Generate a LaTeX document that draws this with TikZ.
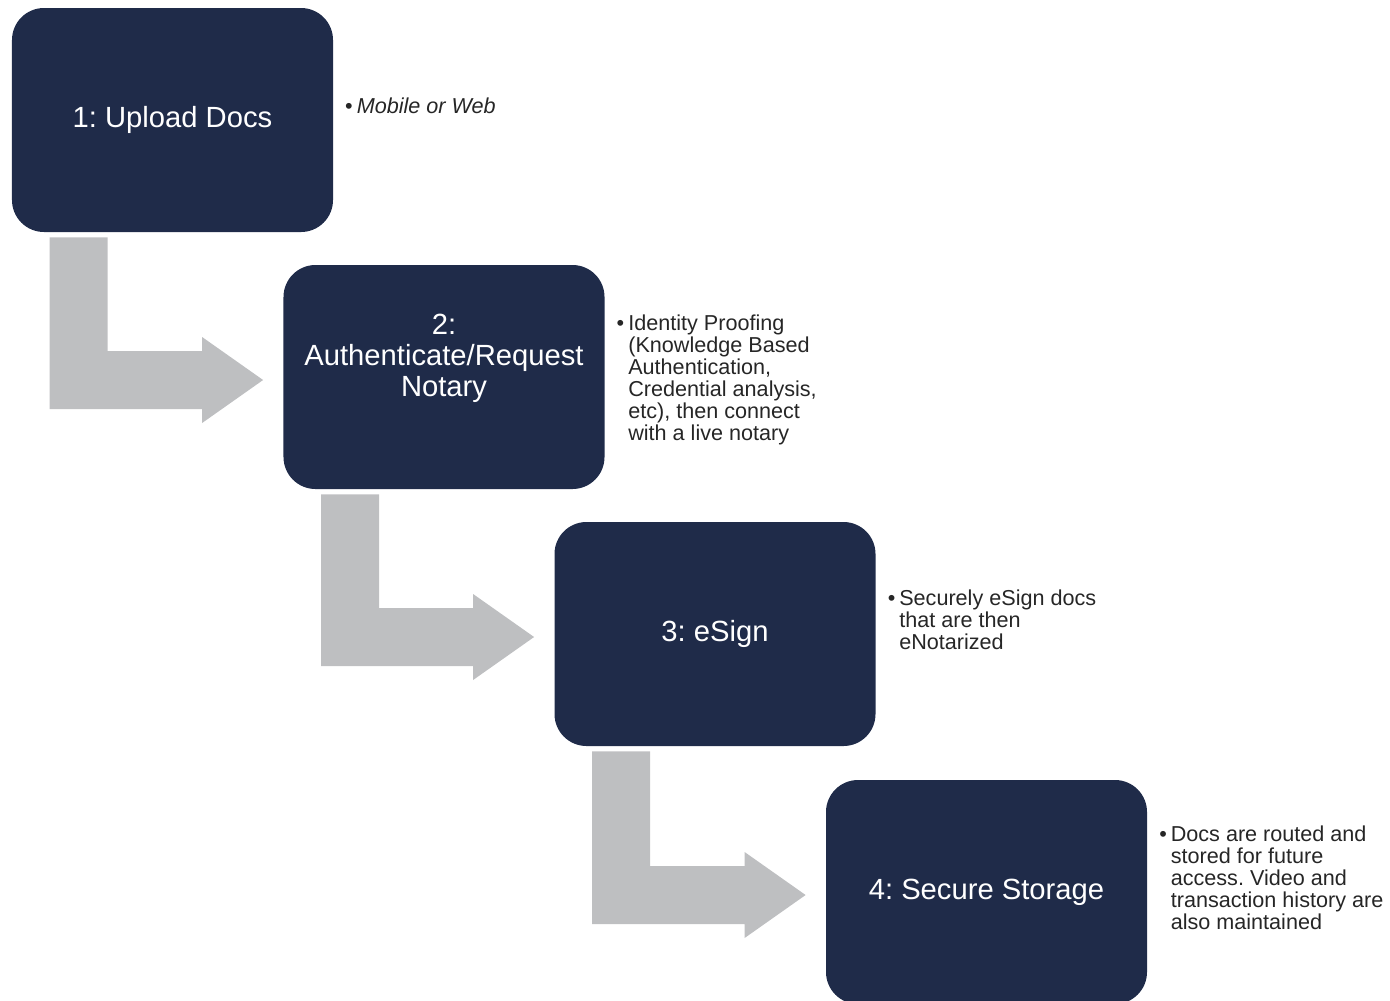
\documentclass[tikz,border=0pt]{standalone}
\usepackage{fontspec}
\setmainfont{Liberation Sans}
\usetikzlibrary{calc}
\frenchspacing

\definecolor{navy}{RGB}{31,43,73}
\definecolor{arrowgray}{RGB}{190,191,193}
\definecolor{notegray}{RGB}{38,38,38}

\tikzset{
  stepbox/.style={fill=navy, text=white, rounded corners=16bp, inner sep=0pt,
    minimum width=160.5bp, minimum height=112bp, align=center,
    font=\fontsize{14.6bp}{15.5bp}\selectfont},
  note/.style={anchor=north west, inner sep=0pt, align=left, text=notegray,
    font=\fontsize{10.8bp}{11bp}\selectfont},
  elbow/.style={fill=arrowgray}
}
\newcommand{\bul}{\llap{\textbullet\hspace{2bp}}}

\begin{document}
\begin{tikzpicture}[x=0.5bp, y=-0.5bp]
  \useasboundingbox (0,0) rectangle (1390,1000);
  \clip (0,0) rectangle (1390,1000);

  % Steps
  \node[stepbox] (s1) at (172.5,120) {1: Upload Docs};
  \node[stepbox, text depth=22bp] (s2) at (444,377) {2:\\Authenticate/Request\\Notary};
  \node[stepbox] (s3) at (715,634) {3: eSign};
  \node[stepbox] (s4) at (986.5,892) {4: Secure Storage};

  % Notes beside the steps
  \node[note] (n1) at ($(s1.north east)+(23,90)$) {\bul\textit{Mobile or Web}};
  \node[note] (n2) at ($(s2.north east)+(23,50)$) {\bul Identity Proofing\\(Knowledge Based\\Authentication,\\Credential analysis,\\etc), then connect\\with a live notary};
  \node[note] (n3) at ($(s3.north east)+(23,68)$) {\bul Securely eSign docs\\that are then\\eNotarized};
  \node[note] (n4) at ($(s4.north east)+(23,46)$) {\bul Docs are routed and\\stored for future\\access. Video and\\transaction history are\\also maintained};

  % Elbow arrows between steps
  \foreach \a/\b in {s1/s2, s2/s3, s3/s4} {
    \coordinate (top) at ($(\a.south west)+(38,5)$);
    \coordinate (tip) at ($(\b.west)+(-20,3)$);
    \fill[elbow] (top) -- ++(58,0) |- ($(tip)+(-61,-29)$) -- ++(0,-14) -- (tip)
      -- ($(tip)+(-61,43)$) -- ++(0,-14) -| (top) -- cycle;
  }
\end{tikzpicture}
\end{document}
